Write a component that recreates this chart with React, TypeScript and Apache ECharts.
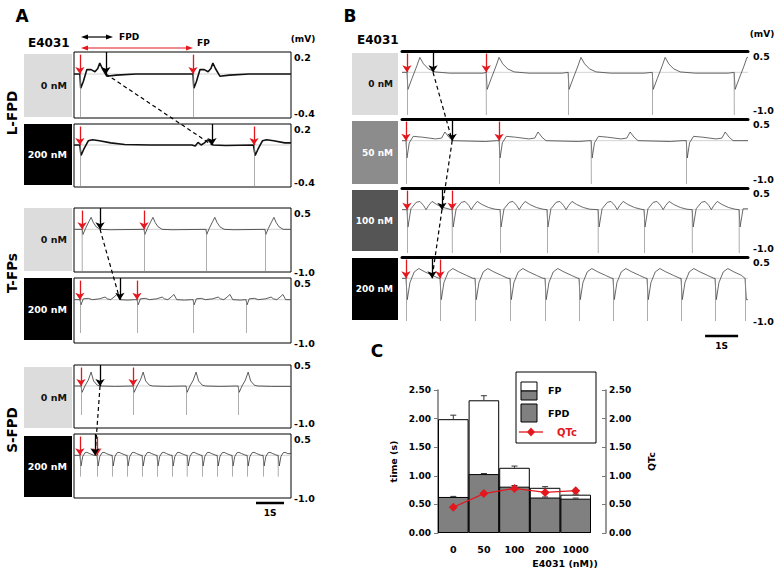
import React, { useEffect, useRef } from 'react';
import * as echarts from 'echarts';

const FONT = 'DejaVu Sans';
const RED = '#e3171e';

// ---------- Panel C data ----------
const concLabels = ['0', '50', '100', '200', '1000'];
const fpValues = [1.99, 2.32, 1.14, 0.79, 0.67];
const fpErrors = [0.07, 0.08, 0.03, 0.02, 0.01];
const fpdValues = [0.63, 1.03, 0.81, 0.62, 0.6];
const fpdErrors = [0.01, 0.01, 0.02, 0.01, 0.01];
const qtcValues = [0.45, 0.69, 0.78, 0.71, 0.74];

// ---------- Trace data (time in s, potential in mV) ----------
const A_SPAN = 7.75;
const B_SPAN = 10.48;

const lfpd0Beats = [0.21, 4.25];
const lfpd0Shape = [[0, 0], [0.03, -0.13], [0.12, -0.07], [0.25, 0.04], [0.4, 0.04], [0.54, 0.02], [0.64, 0.05], [0.71, 0.1], [0.8, 0.05], [0.96, -0.02], [1.3, -0.01], [2.0, 0]];
const lfpd200Beats = [0.21, 6.43];
const lfpd200Shape = [[0, 0], [0.04, -0.1], [0.14, -0.04], [0.3, 0.04], [0.45, 0.05], [0.7, 0.04], [1.1, 0.02], [1.6, 0.005], [2.5, 0], [4.0, 0], [4.12, -0.01], [4.22, 0.025], [4.33, 0.0], [4.45, 0.02], [4.57, 0.05], [4.75, 0.0], [5.2, -0.005], [6.2, 0]];
const tfp0Beats = [0.29, 2.5, 4.71, 6.82];
const tfp0Shape = [[0, 0], [0.03, -0.12], [0.12, 0.02], [0.24, 0.18], [0.32, 0.28], [0.4, 0.16], [0.5, 0.06], [0.65, 0.0], [1.0, -0.01]];
const tfp200Beats = [0.21, 2.25, 4.25, 6.14];
const tfp200Shape = [[0, 0], [0.04, -0.12], [0.12, 0.02], [0.3, 0.03], [0.45, 0.0], [0.7, 0.02], [0.9, 0.06], [0.98, 0.02], [1.1, 0.0], [1.22, 0.06], [1.32, 0.12], [1.42, 0.0], [1.7, -0.01], [1.95, 0]];
const sfpd0Beats = [0.25, 2.11, 4.0, 5.86];
const sfpd0Shape = [[0, 0], [0.04, -0.15], [0.14, 0.0], [0.26, 0.14], [0.36, 0.33], [0.45, 0.12], [0.58, 0.02], [0.7, 0.0], [1.2, -0.01]];
const sfpd200Beats = [0.21, 0.82, 1.36, 1.89, 2.43, 2.96, 3.5, 4.04, 4.57, 5.11, 5.64, 6.18, 6.75, 7.29];
const sfpd200Shape = [[0, 0], [0.04, -0.25], [0.1, -0.03], [0.18, 0.06], [0.25, 0.07], [0.35, 0.04], [0.5, 0.0]];

const b0Beats = [0.15, 2.55, 5.03, 7.58, 10.06];
const b0Shape = [[0, 0], [0.03, -0.4], [0.15, -0.15], [0.3, 0.15], [0.39, 0.35], [0.5, 0.2], [0.65, 0.08], [0.85, 0.01], [1.3, -0.02], [2.3, -0.02]];
const b50Beats = [0.12, 2.94, 5.73, 8.61];
const b50Shape = [[0, 0], [0.03, -0.4], [0.1, -0.05], [0.22, 0.1], [0.5, 0.08], [0.9, 0.04], [1.08, 0.06], [1.18, 0.2], [1.3, 0.08], [1.42, 0.0], [2.4, -0.02], [2.75, 0]];
const b100Beats = [0.15, 1.52, 2.97, 4.39, 5.94, 7.33, 8.79, 10.21];
const b100Shape = [[0, 0], [0.03, -0.4], [0.12, 0.02], [0.28, 0.17], [0.39, 0.19], [0.5, 0.1], [0.58, 0.0], [0.66, 0.1], [0.76, 0.19], [0.9, 0.12], [1.1, 0.05], [1.3, 0.01]];
const b200Beats = [0.12, 1.15, 2.21, 3.27, 4.33, 5.36, 6.39, 7.42, 8.45, 9.48, 10.39];
const b200Shape = [[0, 0], [0.04, -0.5], [0.12, -0.1], [0.25, 0.15], [0.39, 0.23], [0.55, 0.16], [0.8, 0.07], [1.0, 0.0]];

const spikeDepths = [-0.4, -0.4, -0.98, -0.77, -0.69, -0.5, -1.0, -1.0, -1.0, -1.0];
const fpdEndTimes = [1.14, 4.93, 0.93, 1.64, 0.93, 0.75, 0.94, 1.52, 1.21, 0.91];
const yRanges = [[-0.4, 0.2], [-0.4, 0.2], [-1.0, 0.5], [-1.0, 0.5], [-1.0, 0.5], [-1.0, 0.5], [-1.0, 0.5], [-1.0, 0.5], [-1.0, 0.5], [-1.0, 0.5]];
const traceBeats = [lfpd0Beats, lfpd200Beats, tfp0Beats, tfp200Beats, sfpd0Beats, sfpd200Beats, b0Beats, b50Beats, b100Beats, b200Beats];
const traceShapes = [lfpd0Shape, lfpd200Shape, tfp0Shape, tfp200Shape, sfpd0Shape, sfpd200Shape, b0Shape, b50Shape, b100Shape, b200Shape];
const traceSpans = [A_SPAN, A_SPAN, A_SPAN, A_SPAN, A_SPAN, A_SPAN, B_SPAN, B_SPAN, B_SPAN, B_SPAN];
const condLabels = ['0 nM', '200 nM', '0 nM', '200 nM', '0 nM', '200 nM', '0 nM', '50 nM', '100 nM', '200 nM'];
const dashedPairs = [[0, 1], [2, 3], [4, 5], [6, 7], [7, 8], [8, 9]];

// ---------- Layout (positions / styles) ----------
const layout = [
  { grid: { left: 74, top: 52, width: 217, height: 66 }, box: [24, 54, 48, 63], boxColor: '#dcdcdc', txt: '#111', frame: 'box', lw: 1.6, lc: '#111', maxA: 'top', minA: 'bottom' },
  { grid: { left: 74, top: 124, width: 217, height: 63 }, box: [24, 124, 48, 61], boxColor: '#000', txt: '#fff', frame: 'box', lw: 1.6, lc: '#111', maxA: 'top', minA: 'bottom' },
  { grid: { left: 74, top: 208, width: 217, height: 64 }, box: [24, 208, 48, 63], boxColor: '#dcdcdc', txt: '#111', frame: 'box', lw: 0.8, lc: '#333', maxA: 'top', minA: 'middle' },
  { grid: { left: 74, top: 278, width: 217, height: 65 }, box: [24, 278, 48, 62], boxColor: '#000', txt: '#fff', frame: 'box', lw: 0.8, lc: '#333', maxA: 'top', minA: 'middle' },
  { grid: { left: 74, top: 365, width: 217, height: 63 }, box: [24, 367, 48, 61], boxColor: '#dcdcdc', txt: '#111', frame: 'box', lw: 0.8, lc: '#333', maxA: 'middle', minA: 'bottom' },
  { grid: { left: 74, top: 434, width: 217, height: 64 }, box: [24, 436, 48, 61], boxColor: '#000', txt: '#fff', frame: 'box', lw: 0.8, lc: '#333', maxA: 'top', minA: 'middle' },
  { grid: { left: 402, top: 51, width: 346, height: 64 }, box: [352, 53, 46, 62], boxColor: '#dcdcdc', txt: '#111', frame: 'top', lw: 0.8, lc: '#444', maxA: 'top', minA: 'bottom' },
  { grid: { left: 402, top: 119, width: 346, height: 65 }, box: [352, 121, 46, 63], boxColor: '#8c8c8c', txt: '#fff', frame: 'top', lw: 0.8, lc: '#444', maxA: 'top', minA: 'bottom' },
  { grid: { left: 402, top: 188, width: 346, height: 65 }, box: [352, 190, 46, 61], boxColor: '#555555', txt: '#fff', frame: 'top', lw: 0.8, lc: '#444', maxA: 'top', minA: 'bottom' },
  { grid: { left: 402, top: 257, width: 346, height: 64 }, box: [352, 258, 46, 62], boxColor: '#000', txt: '#fff', frame: 'top', lw: 0.8, lc: '#444', maxA: 'top', minA: 'middle' },
];

function buildTrace(beats: number[], shape: number[][], span: number) {
  const pts: number[][] = [[0, 0]];
  beats.forEach((b, i) => {
    const next = i + 1 < beats.length ? beats[i + 1] : span + 1;
    for (const [dt, v] of shape) {
      const t = b + dt;
      if (t >= next || t > span) break;
      pts.push([+t.toFixed(3), v]);
    }
  });
  const last = pts[pts.length - 1];
  if (last[0] < span) pts.push([span, last[1]]);
  return pts;
}

const bold = (size: number) => `bold ${size}px "${FONT}"`;

function txt(text: string, x: number, y: number, size: number, opts: any = {}) {
  return {
    type: 'text', x, y, rotation: opts.rotation || 0, z: 20,
    style: { text, fill: opts.fill || '#000', font: bold(size), align: opts.align || 'left', verticalAlign: 'middle' },
  };
}

function dblArrow(x1: number, x2: number, y: number, color: string) {
  return [
    { type: 'line', z: 20, shape: { x1: x1 + 4, y1: y, x2: x2 - 4, y2: y }, style: { stroke: color, lineWidth: 1.2 } },
    { type: 'polygon', z: 20, shape: { points: [[x1, y], [x1 + 7, y - 2.5], [x1 + 7, y + 2.5]] }, style: { fill: color } },
    { type: 'polygon', z: 20, shape: { points: [[x2, y], [x2 - 7, y - 2.5], [x2 - 7, y + 2.5]] }, style: { fill: color } },
  ];
}

function staticGraphics() {
  const g: any[] = [];
  g.push(txt('A', 22, 16, 17, { align: 'center' }));
  g.push(txt('B', 350, 16, 17, { align: 'center' }));
  g.push(txt('C', 377, 351, 17, { align: 'center' }));
  g.push(txt('E4031', 28, 43, 12));
  g.push(txt('E4031', 357, 40, 12));
  g.push(txt('(mV)', 303, 39, 9, { align: 'center' }));
  g.push(txt('(mV)', 762, 34, 9, { align: 'center' }));
  g.push(...dblArrow(81, 113, 37, '#000'));
  g.push(...dblArrow(81, 193, 48, RED));
  g.push(txt('FPD', 119, 37, 9));
  g.push(txt('FP', 197, 43, 9));
  g.push(txt('L-FPD', 12, 113, 13.5, { align: 'center', rotation: Math.PI / 2 }));
  g.push(txt('T-FPs', 12, 273, 13.5, { align: 'center', rotation: Math.PI / 2 }));
  g.push(txt('S-FPD', 12, 430, 13.5, { align: 'center', rotation: Math.PI / 2 }));
  layout.forEach((l, i) => {
    const [x, y, w, h] = l.box;
    g.push({ type: 'rect', z: 1, shape: { x, y, width: w, height: h }, style: { fill: l.boxColor } });
    g.push(txt(condLabels[i], x + w - 5, y + h / 2, i < 6 ? 9.5 : 9, { align: 'right', fill: l.txt }));
  });
  // Panel C extras
  g.push(txt('E4031 (nM))', 565, 563, 9.5, { align: 'center' }));
  // legend
  g.push({ type: 'rect', z: 15, shape: { x: 516, y: 372, width: 80, height: 71 }, style: { fill: '#fff', stroke: '#000', lineWidth: 1 } });
  g.push({ type: 'rect', z: 16, shape: { x: 521, y: 382, width: 16, height: 9 }, style: { fill: '#fff', stroke: '#000', lineWidth: 1 } });
  g.push({ type: 'rect', z: 16, shape: { x: 521, y: 391, width: 16, height: 9 }, style: { fill: '#808080', stroke: '#000', lineWidth: 1 } });
  g.push(txt('FP', 548, 390, 9.5));
  g.push({ type: 'rect', z: 16, shape: { x: 521, y: 404, width: 16, height: 18 }, style: { fill: '#808080', stroke: '#000', lineWidth: 1 } });
  g.push(txt('FPD', 548, 413, 9.5));
  g.push({ type: 'line', z: 16, shape: { x1: 519, y1: 432, x2: 543, y2: 432 }, style: { stroke: RED, lineWidth: 1.3 } });
  g.push({ type: 'polygon', z: 17, shape: { points: [[531, 427.5], [535, 432], [531, 436.5], [527, 432]] }, style: { fill: RED } });
  g.push(txt('QTc', 557, 432, 10, { fill: RED }));
  return g;
}

function buildOption() {
  const grids: any[] = [];
  const xAxes: any[] = [];
  const yAxes: any[] = [];
  const series: any[] = [];

  layout.forEach((l, i) => {
    const [yMin, yMax] = yRanges[i];
    const span = traceSpans[i];
    grids.push({ ...l.grid, show: l.frame === 'box', borderColor: '#000', borderWidth: 1, backgroundColor: 'transparent' });
    xAxes.push({
      gridIndex: i, type: 'value', min: 0, max: span, position: 'top',
      show: l.frame === 'top',
      axisLine: { show: true, onZero: false, lineStyle: { color: '#000', width: 3 } },
      axisTick: { show: false }, axisLabel: { show: false }, splitLine: { show: false },
    });
    yAxes.push({
      gridIndex: i, type: 'value', min: yMin, max: yMax, position: 'right',
      axisLine: { show: false }, axisTick: { show: false }, splitLine: { show: false },
      axisLabel: {
        customValues: [yMin, yMax], formatter: (v: number) => v.toFixed(1),
        fontSize: 9.5, fontWeight: 'bold', fontFamily: FONT, color: '#000', margin: i < 6 ? 3 : 5,
        verticalAlignMaxLabel: l.maxA, verticalAlignMinLabel: l.minA,
      },
    });
    const beats = traceBeats[i];
    // baseline + spikes
    series.push({
      type: 'line', xAxisIndex: i, yAxisIndex: i, data: [[0, 0], [span, 0]], symbol: 'none', silent: true,
      lineStyle: { color: '#b5b5b5', width: 0.6 },
      markLine: {
        silent: true, symbol: ['none', 'none'], label: { show: false },
        lineStyle: { color: '#8a8a8a', width: 0.7, type: 'solid' },
        data: beats.map((b) => [{ coord: [b, 0] }, { coord: [b + 0.005, spikeDepths[i]] }]),
      },
    });
    // trace + arrows
    const top = yMax - 0.04 * (yMax - yMin);
    series.push({
      type: 'line', xAxisIndex: i, yAxisIndex: i, data: buildTrace(beats, traceShapes[i], span),
      symbol: 'none', silent: true, z: 3,
      lineStyle: { color: l.lc, width: l.lw },
      markLine: {
        silent: true, symbol: ['none', 'arrow'], symbolSize: 7, label: { show: false },
        data: [
          [{ coord: [beats[0], top], lineStyle: { color: RED, width: 1.3, type: 'solid' }, itemStyle: { color: RED } }, { coord: [beats[0], 0.0] }],
          [{ coord: [beats[1], top], lineStyle: { color: RED, width: 1.3, type: 'solid' }, itemStyle: { color: RED } }, { coord: [beats[1], 0.0] }],
          [{ coord: [fpdEndTimes[i], yMax], lineStyle: { color: '#000', width: 1.3, type: 'solid' }, itemStyle: { color: '#000' } }, { coord: [fpdEndTimes[i], 0.0] }],
        ],
      },
    });
  });

  // Panel C
  const ci = layout.length;
  grids.push({ left: 438, top: 390, width: 153, height: 143, show: false });
  xAxes.push({
    gridIndex: ci, type: 'category', data: concLabels,
    axisLine: { show: false }, axisTick: { show: false },
    axisLabel: { interval: 0, fontSize: 9.5, fontWeight: 'bold', fontFamily: FONT, color: '#000', margin: 11 },
  });
  const yC = (pos: string, extra: any) => ({
    gridIndex: ci, type: 'value', min: 0, max: 2.5, interval: 0.5, position: pos,
    axisLine: { show: true, lineStyle: { color: '#777', width: 1.5 } },
    splitLine: { show: false },
    nameLocation: 'middle', nameRotate: 90, nameGap: 40,
    nameTextStyle: { fontSize: 9.5, fontWeight: 'bold', fontFamily: FONT, color: '#000' },
    axisLabel: { formatter: (v: number) => v.toFixed(2), fontSize: 9, fontWeight: 'bold', fontFamily: FONT, color: '#000', margin: 7 },
    ...extra,
  });
  yAxes.push(yC('left', { name: 'time (s)', axisTick: { show: true, length: 4, lineStyle: { color: '#777' } } }));
  yAxes.push(yC('right', {
    name: 'QTc', offset: 15,
    axisTick: { show: true, inside: true, length: 4, lineStyle: { color: '#777' } },
    axisLabel: { formatter: (v: number) => v.toFixed(2), fontSize: 9, fontWeight: 'bold', fontFamily: FONT, color: '#000', margin: 3 },
  }));

  const errSeries = (vals: number[], errs: number[]) => ({
    type: 'custom', xAxisIndex: ci, yAxisIndex: ci, silent: true, z: 6,
    data: vals.map((v, i) => [i, v, v + errs[i]]),
    renderItem: (params: any, api: any) => {
      const x = api.value(0);
      const b = api.coord([x, api.value(1)]);
      const t = api.coord([x, api.value(2)]);
      return {
        type: 'group', children: [
          { type: 'line', shape: { x1: b[0], y1: b[1], x2: t[0], y2: t[1] }, style: { stroke: '#333', lineWidth: 1 } },
          { type: 'line', shape: { x1: t[0] - 3, y1: t[1], x2: t[0] + 3, y2: t[1] }, style: { stroke: '#333', lineWidth: 1 } },
        ],
      };
    },
  });

  series.push({
    name: 'FP', type: 'bar', xAxisIndex: ci, yAxisIndex: ci, data: fpValues, barWidth: '100%', barGap: '-100%',
    itemStyle: { color: '#fff', borderColor: '#000', borderWidth: 1 }, silent: true, z: 2,
  });
  series.push({
    name: 'FPD', type: 'bar', xAxisIndex: ci, yAxisIndex: ci, data: fpdValues, barWidth: '100%', barGap: '-100%',
    itemStyle: { color: '#808080', borderColor: '#000', borderWidth: 1 }, silent: true, z: 3,
  });
  series.push(errSeries(fpValues, fpErrors));
  series.push(errSeries(fpdValues, fpdErrors));
  series.push({
    name: 'QTc', type: 'line', xAxisIndex: ci, yAxisIndex: ci + 1, data: qtcValues,
    symbol: 'diamond', symbolSize: 9, itemStyle: { color: RED }, lineStyle: { color: RED, width: 1.3 }, z: 10, silent: true,
  });

  return {
    animation: false,
    backgroundColor: '#fff',
    textStyle: { fontFamily: FONT },
    grid: grids, xAxis: xAxes, yAxis: yAxes, series,
    graphic: staticGraphics(),
  };
}

export default function App() {
  const ref = useRef<HTMLDivElement>(null);
  useEffect(() => {
    const chart = echarts.init(ref.current!, null, { renderer: 'svg' });
    chart.setOption(buildOption());
    const extra: any[] = [];
    for (const [a, b] of dashedPairs) {
      const p1 = chart.convertToPixel({ gridIndex: a }, [fpdEndTimes[a], 0]);
      const p2 = chart.convertToPixel({ gridIndex: b }, [fpdEndTimes[b], 0]);
      extra.push({ type: 'line', z: 20, shape: { x1: p1[0], y1: p1[1], x2: p2[0], y2: p2[1] }, style: { stroke: '#000', lineWidth: 1.2, lineDash: [4, 3] } });
    }
    // 1 s scale bars
    const sA0 = chart.convertToPixel({ gridIndex: 5 }, [6.5, 0]);
    const sA1 = chart.convertToPixel({ gridIndex: 5 }, [7.5, 0]);
    const sB0 = chart.convertToPixel({ gridIndex: 9 }, [9.18, 0]);
    const sB1 = chart.convertToPixel({ gridIndex: 9 }, [10.18, 0]);
    extra.push({ type: 'line', z: 20, shape: { x1: sA0[0], y1: 503, x2: sA1[0], y2: 503 }, style: { stroke: '#000', lineWidth: 2.5 } });
    extra.push(txt('1S', (sA0[0] + sA1[0]) / 2, 513, 9, { align: 'center' }));
    extra.push({ type: 'line', z: 20, shape: { x1: sB0[0], y1: 336, x2: sB1[0], y2: 336 }, style: { stroke: '#000', lineWidth: 2.5 } });
    extra.push(txt('1S', (sB0[0] + sB1[0]) / 2, 346, 9, { align: 'center' }));
    chart.setOption({ graphic: [...staticGraphics(), ...extra] });
    return () => chart.dispose();
  }, []);
  return <div ref={ref} style={{ position: 'fixed', left: 0, top: 0, width: 777, height: 573, background: '#fff' }} />;
}
